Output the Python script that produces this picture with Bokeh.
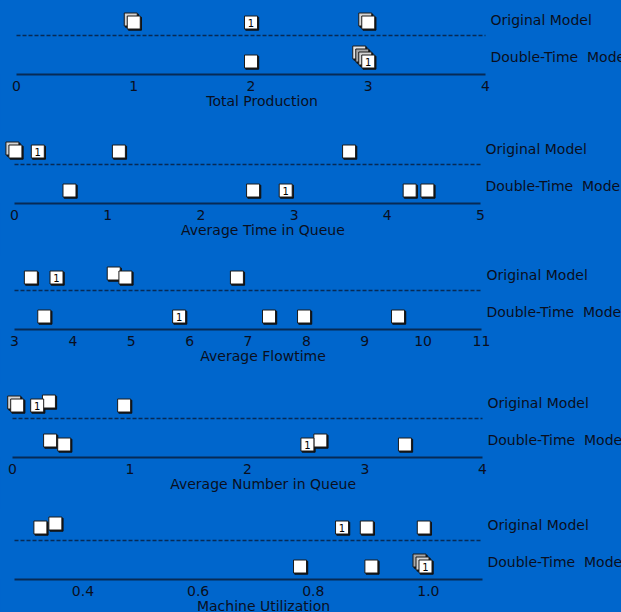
from bokeh.plotting import figure
from bokeh.layouts import column
from bokeh.models import FixedTicker, PrintfTickFormatter, Label, ColumnDataSource, Title
from bokeh.core.properties import value
from bokeh.embed import file_html
from bokeh.resources import INLINE

# Replication results (first entry of every list = replication 1)
total_production_orig = [2.0, 1.0, 1.0, 3.0, 3.0]
total_production_double = [3.0, 3.0, 3.0, 3.0, 2.0]
time_in_queue_orig = [0.25, 0.01, 0.01, 1.12, 3.59]
time_in_queue_double = [2.91, 0.59, 2.56, 4.24, 4.43]
flowtime_orig = [3.72, 3.28, 4.90, 4.70, 6.81]
flowtime_double = [5.82, 3.51, 7.36, 7.96, 9.57]
number_in_queue_orig = [0.21, 0.04, 0.04, 0.31, 0.95]
number_in_queue_double = [2.51, 0.44, 0.32, 2.62, 3.34]
utilization_orig = [0.85, 0.326, 0.352, 0.893, 0.992]
utilization_double = [0.995, 0.995, 0.995, 0.777, 0.901]

row_names = ["Original Model", "Double-Time\u00a0 Model"]
titles = ["Total Production", "Average Time in Queue", "Average Flowtime",
          "Average Number in Queue", "Machine Utilization"]
axis_bounds = [(0, 4), (0, 5), (3, 11), (0, 4), (0.281, 1.094)]
tick_values = [[0, 1, 2, 3, 4], [0, 1, 2, 3, 4, 5], [3, 4, 5, 6, 7, 8, 9, 10, 11],
               [0, 1, 2, 3, 4], [0.4, 0.6, 0.8, 1.0]]
series = [(total_production_orig, total_production_double),
          (time_in_queue_orig, time_in_queue_double),
          (flowtime_orig, flowtime_double),
          (number_in_queue_orig, number_in_queue_double),
          (utilization_orig, utilization_double)]

# layout of each panel (pixels)
W = 621
axis_px = [(16, 485), (14, 480), (14, 481), (12, 482), (14, 482)]
heights = [129, 126, 128, 125, 104]
bottoms = [55, 52, 54, 51, 33]
TITLE_CENTER = 263   # horizontal centre of the axis titles
ROW_PX = 39          # vertical distance between the two rows
BASE_PX = 13         # lower row above the axis line
SQ = 13

BG = "#0066CC"
INK = "#0a0f1e"
LINE = "#072a55"
FONT = "DejaVu Sans"
FONT_PX = 14
FS = f"{FONT_PX}px"
STACK_GRAYS = ["#ffffff", "#d4d4d4", "#a8a8a8", "#e4e4e4"]

# DejaVu Sans advance widths (font units, 2048 per em) for centring the titles
ADV = {" ": 651, "A": 1401, "F": 1178, "M": 1767, "N": 1532, "P": 1235, "Q": 1612,
       "T": 1251, "U": 1499, "a": 1255, "b": 1300, "c": 1126, "d": 1300, "e": 1260,
       "g": 1300, "h": 1298, "i": 569, "l": 569, "m": 1995, "n": 1298, "o": 1253,
       "r": 842, "t": 803, "u": 1298, "v": 1212, "w": 1675, "z": 1075}


def text_width(s):
    return sum(ADV.get(c, 1200) for c in s) * FONT_PX / 2048


def place(vals, scale):
    """Offsets for markers that coincide (diagonal stack) or overlap (raised)."""
    out = []
    for i, v in enumerate(vals):
        same = [j for j in range(i) if abs(vals[j] - v) * scale < 4]
        if same:
            d = len(same)
            out.append((-3 * d, 3 * d, d))
        elif any(abs(vals[j] - v) * scale < 16 for j in range(i)):
            out.append((0, 4, 0))
        else:
            out.append((0, 0, 0))
    return out


figs = []
for k in range(5):
    lo, hi = axis_bounds[k]
    px0, px1 = axis_px[k]
    sx = (px1 - px0) / (hi - lo)
    x_start = lo - px0 / sx
    x_end = lo + (W - px0) / sx
    frame_h = heights[k] - bottoms[k]
    y_start = -BASE_PX / ROW_PX
    y_end = y_start + frame_h / ROW_PX

    p = figure(width=W, height=heights[k], x_range=(x_start, x_end), y_range=(y_start, y_end),
               output_backend="svg", toolbar_location=None, y_axis_location=None,
               min_border_left=0, min_border_right=0, min_border_top=0,
               min_border_bottom=bottoms[k], background_fill_color=BG, border_fill_color=BG,
               outline_line_color=None)
    p.grid.visible = False
    ax = p.xaxis[0]
    ax.bounds = (lo, hi)
    ax.ticker = FixedTicker(ticks=tick_values[k])
    if k == 4:
        ax.formatter = PrintfTickFormatter(format="%.1f")
    ax.axis_line_color = LINE
    ax.axis_line_width = 2
    ax.major_tick_out = 0
    ax.major_tick_in = 0
    ax.minor_tick_out = 0
    ax.minor_tick_in = 0
    ax.major_label_standoff = 6
    ax.major_label_text_font = FONT
    ax.major_label_text_font_size = FS
    ax.major_label_text_color = INK

    # axis title, placed under the tick labels
    p.add_layout(Title(text=titles[k], align="left",
                       offset=TITLE_CENTER - text_width(titles[k]) / 2,
                       standoff=-5, text_font=FONT, text_font_size=FS,
                       text_font_style="normal", text_color=INK), "below")

    # dashed separator between the two models
    sep = (ROW_PX - BASE_PX) / ROW_PX
    p.segment(x0=[lo], y0=[sep], x1=[hi], y1=[sep], line_color=LINE, line_width=1.5,
              line_dash="4 2")

    recs = []
    for row_y, vals in zip([1, 0], series[k]):
        for i, (v, (dx, dy, d)) in enumerate(zip(vals, place(vals, sx))):
            recs.append(dict(x=v + dx / sx, y=row_y + dy / ROW_PX, dy=dy,
                             fill=STACK_GRAYS[d % len(STACK_GRAYS)], lab="1" if i == 0 else ""))
    recs.sort(key=lambda r: -r["dy"])
    src = ColumnDataSource(dict(
        x=[r["x"] for r in recs], y=[r["y"] for r in recs],
        sx=[r["x"] + 1.2 / sx for r in recs], sy=[r["y"] - 1.2 / ROW_PX for r in recs],
        fill=[r["fill"] for r in recs], lab=[r["lab"] for r in recs]))
    p.scatter("sx", "sy", source=src, marker="square", size=SQ, fill_color="#111111",
              line_color="#111111", line_width=1)
    p.scatter("x", "y", source=src, marker="square", size=SQ, fill_color="fill",
              line_color="#1a1a1a", line_width=1)
    p.text("x", "y", text="lab", source=src, text_font=value(FONT), text_font_size="10px",
           text_align="center", text_baseline="middle", text_color="#000000")

    for row_y, name, up in [(1, row_names[0], 3), (0, row_names[1], 5)]:
        p.add_layout(Label(x=hi + 5 / sx, y=row_y + up / ROW_PX, text=name,
                           text_font=FONT, text_font_size=FS, text_color=INK,
                           text_baseline="middle", text_align="left"))
    figs.append(p)

layout = column(*figs, spacing=0, background=BG)
open("out.html", "w").write(file_html(layout, INLINE, title="Output comparison"))
